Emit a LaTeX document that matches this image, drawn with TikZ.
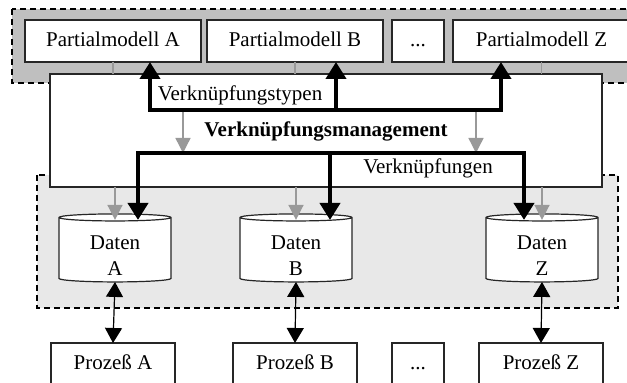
\documentclass[tikz,border=0pt]{standalone}
\usepackage{fontspec}
\setmainfont{Liberation Serif}
\usetikzlibrary{arrows.meta,shapes.geometric}

\begin{document}
\begin{tikzpicture}[inner sep=0pt,outer sep=0pt,x=0.5pt,y=-0.5pt,
    every node/.style={font=\fontsize{10.5}{13}\selectfont},
    box/.style={draw=black!85,line width=0.6pt,fill=white,minimum height=21pt,
        text height=8pt,text depth=2pt},
    daten/.style={draw=black!85,line width=0.6pt,fill=white,cylinder,
        shape border rotate=90,aspect=0.14,minimum width=56pt,minimum height=34pt,
        text height=26pt,text depth=0pt},
    region/.style={draw=black,line width=0.6pt,dash pattern=on 3pt off 2pt},
    grayline/.style={draw=black!40,line width=0.7pt},
    grayarrow/.style={grayline,-{Triangle[width=7.5pt,length=7.5pt]}},
    bigline/.style={line width=2pt,line join=miter},
    bigtip/.style={-{Triangle[width=10pt,length=8.5pt]}},
    bigtips/.style={{Triangle[width=10pt,length=8.5pt]}-{Triangle[width=10pt,length=8.5pt]}},
    dblarrow/.style={line width=0.6pt,{Triangle[width=8.5pt,length=7.5pt]}-{Triangle[width=8.5pt,length=7.5pt]}}]
    \useasboundingbox (0,0) rectangle (627,383);
    \clip (0,0) rectangle (627,383);

    % model and data areas
    \path[region,fill=black!25] (12,9) rectangle (660,83);
    \path[region,fill=black!9] (37,175) rectangle (618,308);

    % link management
    \node[box,minimum width=276pt,minimum height=56.5pt] (mgmt) at (326,130.5)
    {\textbf{Verknüpfungsmanagement}};

    % partial models
    \node[box,minimum width=88pt] (pm_a) at (113,41) {Partialmodell A};
    \node[box,minimum width=88pt] (pm_b) at (295,41) {Partialmodell B};
    \node[box,minimum width=26pt] (pm_dots) at (418,41) {...};
    \node[box,minimum width=88.5pt] (pm_z) at (541.5,41) {Partialmodell Z};

    % data
    \node[daten] (daten_a) at (115,250) {\begin{tabular}[b]{@{}c@{}}Daten\\A\end{tabular}};
    \node[daten] (daten_b) at (296,250) {\begin{tabular}[b]{@{}c@{}}Daten\\B\end{tabular}};
    \node[daten] (daten_z) at (542,250) {\begin{tabular}[b]{@{}c@{}}Daten\\Z\end{tabular}};

    % processes
    \node[box,minimum width=62pt] (proz_a) at (113,364) {Prozeß A};
    \node[box,minimum width=62pt] (proz_b) at (295,364) {Prozeß B};
    \node[box,minimum width=26pt] (proz_dots) at (418,364) {...};
    \node[box,minimum width=62pt] (proz_z) at (541,364) {Prozeß Z};

    % labels
    \node (typ_label) at (240,95) {Verknüpfungstypen};
    \node (vk_label) at (428,168) {Verknüpfungen};

    \coordinate (typ_a) at (150,110);
    \coordinate (typ_b) at (336,110);
    \coordinate (typ_z) at (501,110);
    \coordinate (vk_a) at (138,153);
    \coordinate (vk_b) at (330,153);
    \coordinate (vk_z) at (524,153);
    \coordinate (ga_1) at (183,110);
    \coordinate (ga_2) at (476,110);

    % gray links
    \draw[grayline] (pm_a.south) -- (pm_a.south |- mgmt.north);
    \draw[grayline] (pm_b.south) -- (pm_b.south |- mgmt.north);
    \draw[grayline] (pm_z.south) -- (pm_z.south |- mgmt.north);
    \draw[grayarrow] (ga_1) -- (ga_1 |- vk_a);
    \draw[grayarrow] (ga_2) -- (ga_2 |- vk_a);
    \draw[grayarrow,shorten >=-3pt] (daten_a.north |- mgmt.south) -- (daten_a.north);
    \draw[grayarrow,shorten >=-3pt] (daten_b.north |- mgmt.south) -- (daten_b.north);
    \draw[grayarrow,shorten >=-3pt] (daten_z.north |- mgmt.south) -- (daten_z.north);

    % thick links
    \draw[bigline,bigtips] (typ_a |- pm_a.south) -- (typ_a) -- (typ_z) -- (typ_z |- pm_z.south);
    \draw[bigline,bigtip] (typ_b) -- (typ_b |- pm_b.south);
    \draw[bigline,bigtips,shorten <=-3pt,shorten >=-3pt]
        (vk_a |- daten_a.north) -- (vk_a) -- (vk_z) -- (vk_z |- daten_z.north);
    \draw[bigline,bigtip,shorten >=-3pt] (vk_b) -- (vk_b |- daten_b.north);

    % data to processes
    \draw[dblarrow] (daten_a.south) -- (proz_a.north);
    \draw[dblarrow] (daten_b.south) -- (proz_b.north);
    \draw[dblarrow] (daten_z.south) -- (proz_z.north);
\end{tikzpicture}
\end{document}
